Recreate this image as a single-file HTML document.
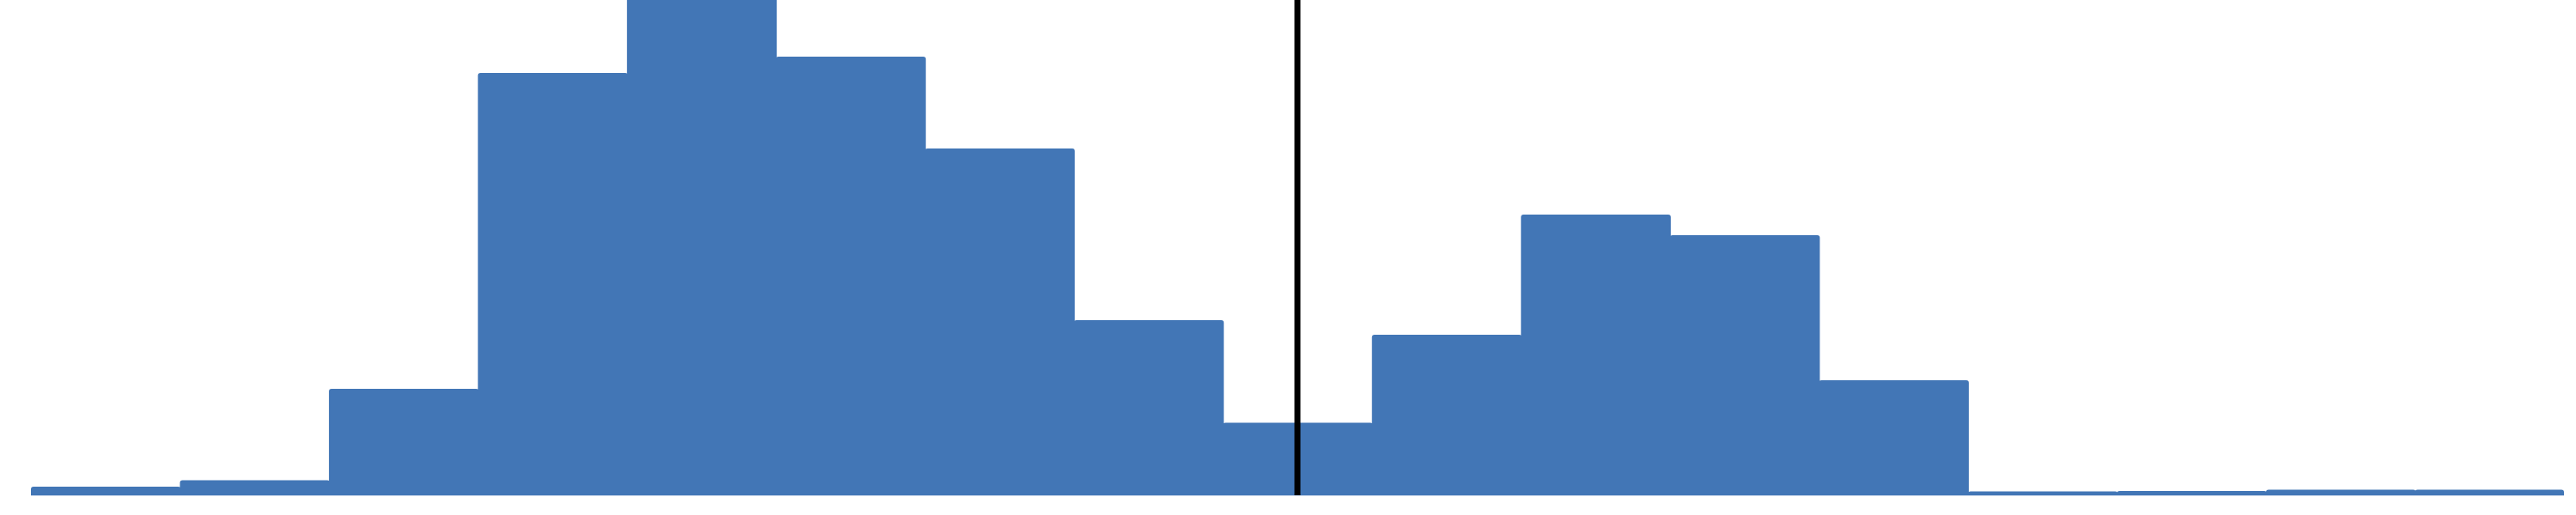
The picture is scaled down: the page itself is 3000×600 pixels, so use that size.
<!DOCTYPE html>
<html><head><meta charset="utf-8"><style>
html,body{margin:0;padding:0;background:#fff;}
svg{display:block;}
</style></head><body>
<svg id="chart" width="3000" height="600" xmlns="http://www.w3.org/2000/svg">
<g id="bars"></g>
<g id="marker"></g>
</svg>
<script>
const binStarts = [0,1,2,3,4,5,6,7,8,9,10,11,12,13,14,15,16];
const counts = [10,17.5,124,492,620,511,404,204,84.5,187,327,303,134,4.5,5,6.5,6.5];
const refValue = [8.5];

const xMin = 0, xMax = 17, px0 = 36, px1 = 2986;
const yMax = 577, py0 = 577, py1 = 0;
function xs(v){ return px0 + (v - xMin) / (xMax - xMin) * (px1 - px0); }
function ys(v){ return py0 - v / yMax * (py0 - py1); }

const ns = 'http://www.w3.org/2000/svg';
const g = document.getElementById('bars');
binStarts.forEach((b, i) => {
  const x0 = xs(b), x1 = xs(b + 1) + (i < binStarts.length - 1 ? 1 : 0);
  const yt = Math.max(ys(counts[i]), -10);
  const r = document.createElementNS(ns, 'path');
  const rad = 3;
  r.setAttribute('d', `M${x0},${py0} L${x0},${yt+rad} Q${x0},${yt} ${x0+rad},${yt} L${x1-rad},${yt} Q${x1},${yt} ${x1},${yt+rad} L${x1},${py0} Z`);
  r.setAttribute('fill', '#4276b6');
  
  
  g.appendChild(r);
});
const base = document.createElementNS(ns, 'line');
base.setAttribute('x1', px0); base.setAttribute('x2', px1);
base.setAttribute('y1', py0 + 0.5); base.setAttribute('y2', py0 + 0.5);
base.setAttribute('stroke', '#c9d6ea'); base.setAttribute('stroke-width', '1');


g.appendChild(base);

const m = document.getElementById('marker');
refValue.forEach(v => {
  const l = document.createElementNS(ns, 'line');
  l.setAttribute('x1', xs(v)); l.setAttribute('x2', xs(v));
  l.setAttribute('y1', 0); l.setAttribute('y2', py0);
  l.setAttribute('stroke', '#000'); l.setAttribute('stroke-width', '7');
  
  
  m.appendChild(l);
});
</script>
</body></html>
